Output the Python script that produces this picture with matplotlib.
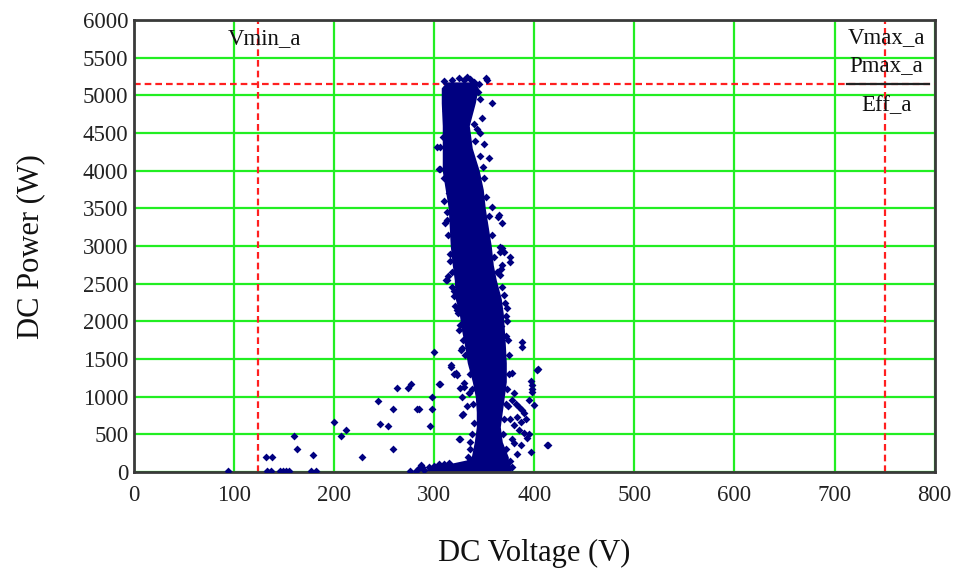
import matplotlib
matplotlib.use("Agg")
import matplotlib.pyplot as plt

plt.rcParams['font.family'] = ['Liberation Serif', 'DejaVu Serif']

# dense core of the cloud: power level -> left / right voltage edge
band_p = [0, 60, 90, 120, 160, 200, 400, 600, 800, 1000, 1200, 1450, 1700, 1900, 2100,
          2300, 2550, 2750, 3000, 3250, 3500, 3750, 4000, 4300, 4600, 4900, 5100, 5180]
band_left = [292, 293, 300, 318, 332, 337, 340, 342, 342, 341, 338, 333, 330, 327, 325,
             321, 320, 318, 316, 315, 314, 311, 308, 308, 308, 307, 307, 312]
band_right = [377, 377, 376, 375, 374, 374, 368, 366, 368, 370, 372, 372, 371, 370, 369,
              367, 362, 359, 357, 354, 351, 349, 345, 338, 335, 341, 344, 341]

# individual points around the core (V, W)
pts_v = [94, 133, 137, 146, 149, 152, 155, 177, 182, 276, 282, 285, 286.5, 288,
         132, 138, 160, 163, 179, 200, 207, 212, 228, 244, 246, 254, 259, 259, 263,
         274, 277, 283, 285, 296, 298, 298, 299.5, 305, 317, 325, 320, 323, 327, 330,
         328, 333, 328, 336, 335, 326, 314, 320, 324, 328, 317, 322, 330, 306, 329, 326,
         366, 376, 368, 388, 404, 397, 398, 414, 397, 383, 395,
         378, 382, 385, 388, 390, 383, 387, 392, 395, 380, 385, 390, 393, 380, 387,
         413, 378, 376, 374, 380, 398, 398, 400, 378, 388, 403, 372, 373, 367, 372,
         370, 366, 376, 366, 370, 367, 368, 365, 368, 364, 358, 355, 358, 353, 352,
         333, 340, 345, 348, 346, 350, 349, 343, 340,
         303, 306, 305, 306, 313, 311, 313, 312, 315, 310, 316, 318, 321, 325,
         310, 318, 325, 330, 336,
         # left fringe
         312, 309, 310, 313, 314, 316, 318, 320, 323, 326, 329, 331, 336, 338, 339,
         340, 338, 336, 334,
         # right fringe
         346, 344, 341, 346, 350, 352, 355, 358, 360, 363, 368, 371, 373, 374, 375,
         375, 373, 372, 370, 369, 372, 376, 378,
         # foot
         290, 295, 300, 305, 310, 315]
pts_p = [10, 10, 10, 10, 10, 10, 10, 10, 10, 10, 10, 50, 90, 68,
         193, 193, 474, 300, 221, 667, 474, 552, 193, 943, 635, 612, 833, 300, 1110,
         1110, 1165, 833, 833, 612, 833, 1000, 1590, 1170, 1400, 440, 1300, 1290, 1620, 1180,
         990, 870, 760, 400, 1050, 1120, 2607, 2334, 2107, 1650, 1424, 1310, 1128, 1174, 764, 432,
         2994, 2857, 2744, 1729, 1370, 1206, 1106, 355, 264, 241, 500,
         960, 900, 860, 820, 780, 730, 668, 700, 950, 620, 560, 520, 450, 385, 363,
         360, 440, 700, 870, 1050, 1060, 1160, 895, 1315, 1660, 1350, 2065, 2175, 1935, 1800,
         2350, 2610, 2790, 2920, 2920, 2700, 2970, 3410, 3300, 3380, 3520, 4165, 4900, 5200, 5230,
         5240, 5180, 5150, 4700, 4500, 4350, 4050, 4560, 4620,
         4310, 4310, 4030, 4030, 3345, 3300, 2550, 2550, 3700, 3600, 2800, 2450, 2200, 1880,
         5190, 5200, 5230, 5200, 5215,
         4800, 4450, 3900, 3450, 3150, 2900, 2650, 2400, 2150, 1950, 1750, 1550, 1300, 1100, 900,
         650, 500, 300, 200,
         4950, 5050, 4400, 4200, 3900, 3650, 3400, 3150, 2850, 2650, 2450, 2250, 2000, 1750, 1550,
         1300, 1100, 900, 700, 500, 300, 150, 60,
         30, 60, 80, 100, 110, 120]

v_min = 124
v_max = 750
p_max = 5150

navy = '#000080'
red = '#ff2020'

fig = plt.figure(figsize=(9.6, 5.72), dpi=100)
ax = fig.add_axes([0.1396, 0.1748, 0.834, 0.790])

ax.set_xlim(0, 800)
ax.set_ylim(0, 6000)
ax.set_xticks(range(0, 801, 100))
ax.set_yticks(range(0, 6001, 500))
ax.grid(True, color='#22ee22', lw=1.6, zorder=0)
ax.set_axisbelow(True)
ax.tick_params(length=0, labelsize=16.5, colors='#222222', pad=9)
ax.tick_params(axis='y', pad=4)

for s in ax.spines.values():
    s.set_color('#3a3a3a')
    s.set_linewidth(2)

# limit markers
ax.axvline(v_min, color=red, lw=1.6, ls=(0, (3, 1.8)), zorder=1)
ax.axvline(v_max, color=red, lw=1.6, ls=(0, (3, 1.8)), zorder=1)
ax.axhline(p_max, color=red, lw=1.6, ls=(0, (3, 1.8)), zorder=1)

ax.fill_betweenx(band_p, band_left, band_right, color=navy, lw=0, zorder=2)
ax.scatter(pts_v, pts_p, s=16, marker='D', color=navy, lw=0, zorder=3)

ax.text(130, 5760, 'Vmin_a', ha='center', va='center', fontsize=16.5, color='#111111')
ax.text(752, 5770, 'Vmax_a', ha='center', va='center', fontsize=16.5, color='#111111')
ax.text(752, 5400, 'Pmax_a', ha='center', va='center', fontsize=16.5, color='#111111')
ax.plot([712, 794], [p_max, p_max], color='#222222', lw=1.6, zorder=4)
ax.text(752, 4870, 'Eff_a', ha='center', va='center', fontsize=16.5, color='#111111')

ax.set_xlabel('DC Voltage (V)', fontsize=22, labelpad=24, color='#111111')
ax.set_ylabel('DC Power (W)', fontsize=22, labelpad=27, color='#111111')

fig.savefig('out.png', dpi=100)
